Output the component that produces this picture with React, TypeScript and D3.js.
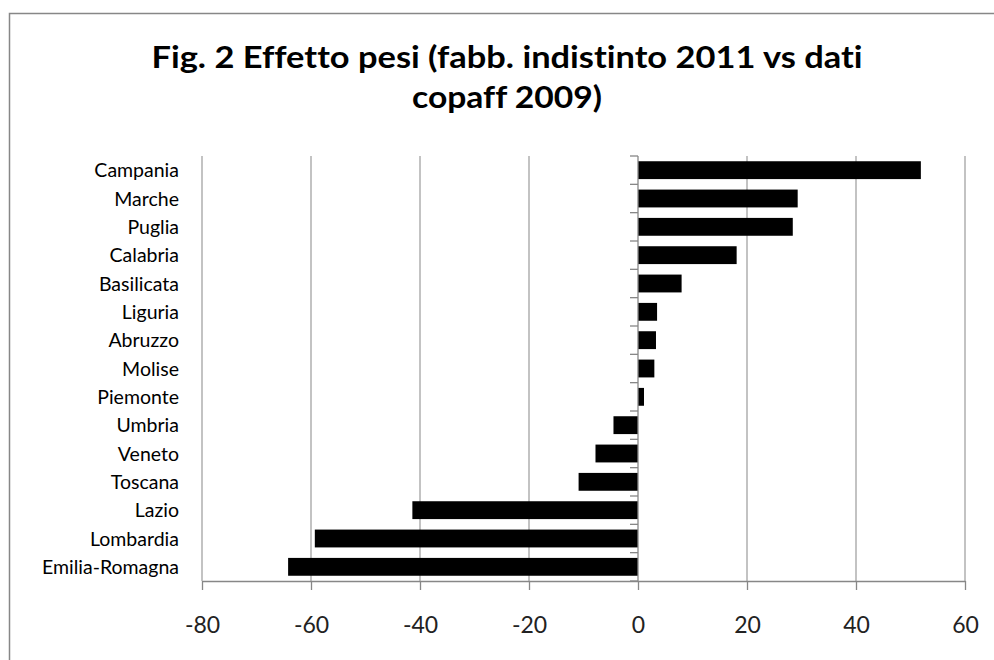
import React, { useEffect, useRef } from "react";
import * as d3 from "d3";

// regions, top to bottom as shown
const regions = [
  "Campania",
  "Marche",
  "Puglia",
  "Calabria",
  "Basilicata",
  "Liguria",
  "Abruzzo",
  "Molise",
  "Piemonte",
  "Umbria",
  "Veneto",
  "Toscana",
  "Lazio",
  "Lombardia",
  "Emilia-Romagna",
];

const effetto = [51.9, 29.3, 28.4, 18.1, 8.0, 3.5, 3.3, 3.0, 1.1, -4.5, -7.8, -10.9, -41.4, -59.3, -64.2];

const xTicks = [-80, -60, -40, -20, 0, 20, 40, 60];

const titleLines = ["Fig. 2 Effetto pesi (fabb. indistinto 2011 vs dati", "copaff 2009)"];

export default function App() {
  const svgRef = useRef<SVGSVGElement | null>(null);

  useEffect(() => {
    const width = 994;
    const height = 660;
    // plot area in page pixels
    const margin = { top: 156, right: 29, bottom: 79, left: 202 };
    const innerWidth = width - margin.left - margin.right;
    const innerHeight = height - margin.top - margin.bottom;
    const font = "Lato, 'Open Sans', sans-serif";

    const svg = d3
      .select(svgRef.current)
      .attr("width", width)
      .attr("height", height)
      .style("font-variant-ligatures", "none");
    svg.selectAll("*").remove();

    // chart border (right and bottom fall off the page)
    svg
      .append("rect")
      .attr("x", 9.5)
      .attr("y", 13.5)
      .attr("width", 1000)
      .attr("height", 700)
      .attr("fill", "#fff")
      .attr("stroke", "#878787")
      .attr("stroke-width", 1.5);

    // title
    const title = svg
      .append("g")
      .attr("font-family", font)
      .attr("font-weight", 700)
      .attr("font-size", 30)
      .attr("fill", "#000")
      .attr("text-anchor", "middle");
    title
      .append("text")
      .attr("x", 507)
      .attr("y", 68)
      .attr("textLength", 711)
      .attr("lengthAdjust", "spacingAndGlyphs")
      .text(titleLines[0]);
    title
      .append("text")
      .attr("x", 507)
      .attr("y", 108)
      .attr("textLength", 190)
      .attr("lengthAdjust", "spacingAndGlyphs")
      .text(titleLines[1]);

    const xScale = d3.scaleLinear().domain([-80, 60]).range([0, innerWidth]);

    const yScale = d3
      .scaleBand<string>()
      .domain(regions)
      .range([0, innerHeight])
      .paddingInner(0.37)
      .paddingOuter(0.185);

    const chart = svg.append("g").attr("transform", `translate(${margin.left}, ${margin.top})`);

    // vertical gridlines
    chart
      .append("g")
      .selectAll("line")
      .data(xTicks.filter((t) => t !== 0))
      .join("line")
      .attr("x1", (d) => xScale(d))
      .attr("x2", (d) => xScale(d))
      .attr("y1", 0)
      .attr("y2", innerHeight)
      .attr("stroke", "#a3a3a3")
      .attr("stroke-width", 1.3);

    // bars
    chart
      .append("g")
      .selectAll("rect")
      .data(effetto)
      .join("rect")
      .attr("x", (d) => xScale(Math.min(0, d)))
      .attr("y", (d, i) => yScale(regions[i])!)
      .attr("width", (d) => Math.abs(xScale(d) - xScale(0)))
      .attr("height", yScale.bandwidth())
      .attr("fill", "#000");

    // x axis, plain hyphen for negatives
    const xAxis = d3
      .axisBottom(xScale)
      .tickValues(xTicks)
      .tickFormat((d) => String(d))
      .tickSize(9)
      .tickPadding(27)
      .tickSizeOuter(0);
    const xg = chart.append("g").attr("transform", `translate(0, ${innerHeight})`).call(xAxis);
    xg.select(".domain").attr("stroke", "#878787").attr("stroke-width", 1.3);
    xg.selectAll(".tick line").attr("stroke", "#878787").attr("stroke-width", 1.3);
    xg.selectAll(".tick text").attr("font-family", font).attr("font-size", 23).attr("fill", "#222");

    // category axis sits on zero, with ticks at band edges
    const x0 = xScale(0);
    const edges = d3.range(regions.length + 1).map((i) => i * (innerHeight / regions.length));
    const yg = chart.append("g");
    yg.append("line")
      .attr("x1", x0)
      .attr("x2", x0)
      .attr("y1", 0)
      .attr("y2", innerHeight)
      .attr("stroke", "#878787")
      .attr("stroke-width", 1.3);
    yg.selectAll("line.tk")
      .data(edges)
      .join("line")
      .attr("class", "tk")
      .attr("x1", x0 - 8)
      .attr("x2", x0)
      .attr("y1", (d) => d)
      .attr("y2", (d) => d)
      .attr("stroke", "#878787")
      .attr("stroke-width", 1.3);

    // category labels, placed at the low end
    chart
      .append("g")
      .selectAll("text")
      .data(regions)
      .join("text")
      .attr("x", -23)
      .attr("y", (d) => yScale(d)! + yScale.bandwidth() / 2)
      .attr("dy", "0.36em")
      .attr("text-anchor", "end")
      .attr("font-family", font)
      .attr("font-size", 19.5)
      .attr("fill", "#000")
      .text((d) => d);
  }, []);

  return <svg ref={svgRef} style={{ position: "absolute", left: 0, top: 0 }}></svg>;
}
